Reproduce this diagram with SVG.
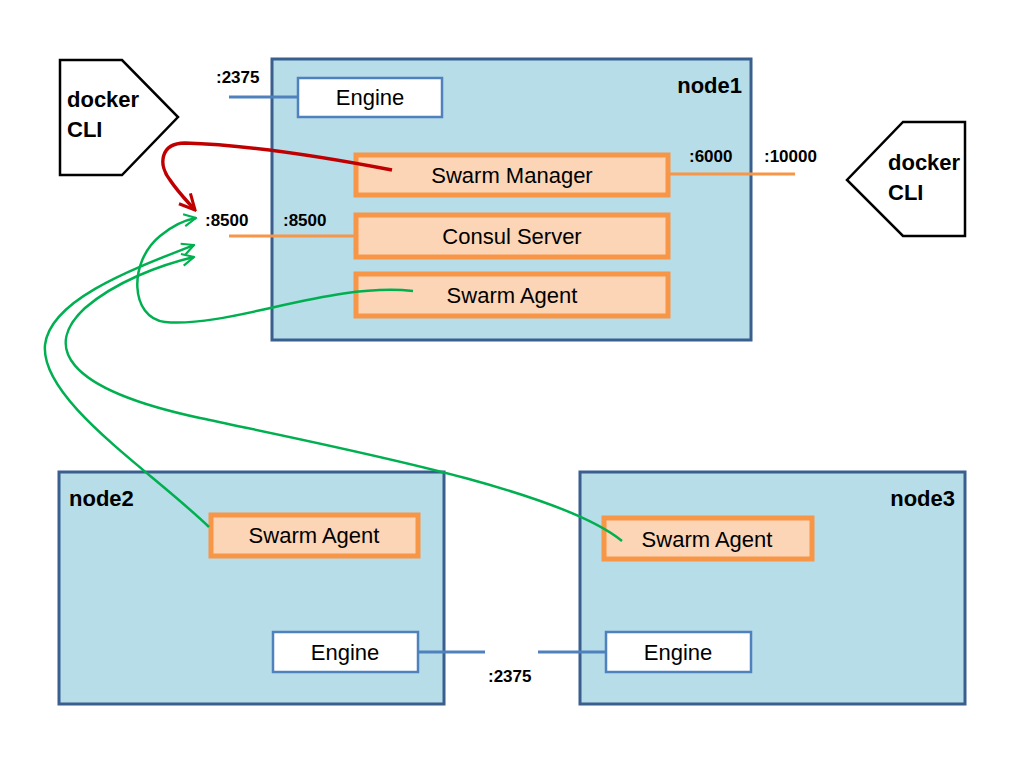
<svg xmlns="http://www.w3.org/2000/svg" width="1024" height="768" viewBox="0 0 1024 768">
<style>
.node{fill:#b7dde8;stroke:#3a5f8f;stroke-width:3}
.eng{fill:#fff;stroke:#4f81bd;stroke-width:2.5}
.svc{fill:#fbd5b5;stroke:#f79646;stroke-width:5}
.cli{fill:#fff;stroke:#000;stroke-width:2.5}
.t{font-family:"Liberation Sans",Arial,sans-serif;font-size:22px;fill:#000;text-anchor:middle}
.b{font-family:"Liberation Sans",Arial,sans-serif;font-weight:bold;fill:#000}
.p{font-size:17px}
.n{font-size:22px}
.c{font-size:22px}
.bl{stroke:#4f81bd;stroke-width:3;fill:none}
.or{stroke:#f79646;stroke-width:3;fill:none}
.gr{stroke:#00b050;stroke-width:2.5;fill:none}
.rd{stroke:#c00000;stroke-width:3.5;fill:none}
</style>
<defs>
<marker id="ag" viewBox="0 0 10 10" refX="9" refY="5" markerWidth="6" markerHeight="6" orient="auto" markerUnits="strokeWidth"><path d="M1,1 L9,5 L1,9" fill="none" stroke="#00b050" stroke-width="1.4"/></marker>
<marker id="ar" viewBox="0 0 10 10" refX="9" refY="5" markerWidth="5.5" markerHeight="5.5" orient="auto" markerUnits="strokeWidth"><path d="M1,1 L9,5 L1,9" fill="none" stroke="#c00000" stroke-width="1.6"/></marker>
</defs>
<rect width="1024" height="768" fill="#fff"/>
<g id="node1">
<rect class="node" x="272" y="59" width="479" height="281"/>
<text class="b n" x="742" y="93" text-anchor="end">node1</text>
</g>
<g id="node2">
<rect class="node" x="59" y="472" width="385" height="232"/>
<text class="b n" x="69" y="506">node2</text>
</g>
<g id="node3">
<rect class="node" x="580" y="472" width="385" height="232"/>
<text class="b n" x="955" y="506" text-anchor="end">node3</text>
</g>
<g id="cli1">
<polygon class="cli" points="60,60 122,60 178,117 122,175 60,175"/>
<text class="b c" x="67" y="107">docker</text>
<text class="b c" x="67" y="137">CLI</text>
</g>
<g id="cli2">
<polygon class="cli" points="965,122 903,122 847,180 903,236 965,236"/>
<text class="b c" x="888" y="170">docker</text>
<text class="b c" x="888" y="200">CLI</text>
</g>
<g id="ports">
<line class="bl" x1="229" y1="97" x2="298" y2="97"/>
<line class="or" x1="229" y1="236" x2="356" y2="236"/>
<line class="or" x1="668" y1="174" x2="795" y2="174"/>
<line class="bl" x1="418" y1="652" x2="485" y2="652"/>
<line class="bl" x1="538" y1="652" x2="606" y2="652"/>
</g>
<g id="labels">
<text class="b p" x="216" y="83">:2375</text>
<text class="b p" x="205" y="226">:8500</text>
<text class="b p" x="283" y="226">:8500</text>
<text class="b p" x="689" y="162">:6000</text>
<text class="b p" x="764" y="162">:10000</text>
<text class="b p" x="488" y="682">:2375</text>
</g>
<g id="engine1"><rect class="eng" x="298" y="78" width="144" height="39"/><text class="t" x="370" y="105">Engine</text></g>
<g id="manager"><rect class="svc" x="356" y="155" width="312" height="40"/><text class="t" x="512" y="183">Swarm Manager</text></g>
<g id="consul"><rect class="svc" x="356" y="215" width="312" height="42"/><text class="t" x="512" y="244">Consul Server</text></g>
<g id="agent1"><rect class="svc" x="356" y="274" width="312" height="42"/><text class="t" x="512" y="303">Swarm Agent</text></g>
<g id="agent2"><rect class="svc" x="211" y="515" width="207" height="41"/><text class="t" x="314" y="543">Swarm Agent</text></g>
<g id="engine2"><rect class="eng" x="273" y="632" width="145" height="40"/><text class="t" x="345" y="660">Engine</text></g>
<g id="agent3"><rect class="svc" x="604" y="518" width="208" height="41"/><text class="t" x="707" y="547">Swarm Agent</text></g>
<g id="engine3"><rect class="eng" x="606" y="632" width="145" height="40"/><text class="t" x="678" y="660">Engine</text></g>
<g id="connectors">
<path class="rd" d="M392,170 C 330,158 250,145 185,143 C 160,143 158,165 170,180 C 178,192 186,200 195,210" marker-end="url(#ar)"/>
<path class="gr" d="M413,291 C 330,282 230,328 165,322 C 130,318 128,262 160,236 C 172,226 185,220 196,218" marker-end="url(#ag)"/>
<path class="gr" d="M209,527 C 150,470 40,400 45,345 C 50,300 130,270 194,245" marker-end="url(#ag)"/>
<path class="gr" d="M622,541 C 560,490 350,450 200,418 C 60,388 45,345 85,308 C 115,282 160,265 194,257" marker-end="url(#ag)"/>
</g>
</svg>
